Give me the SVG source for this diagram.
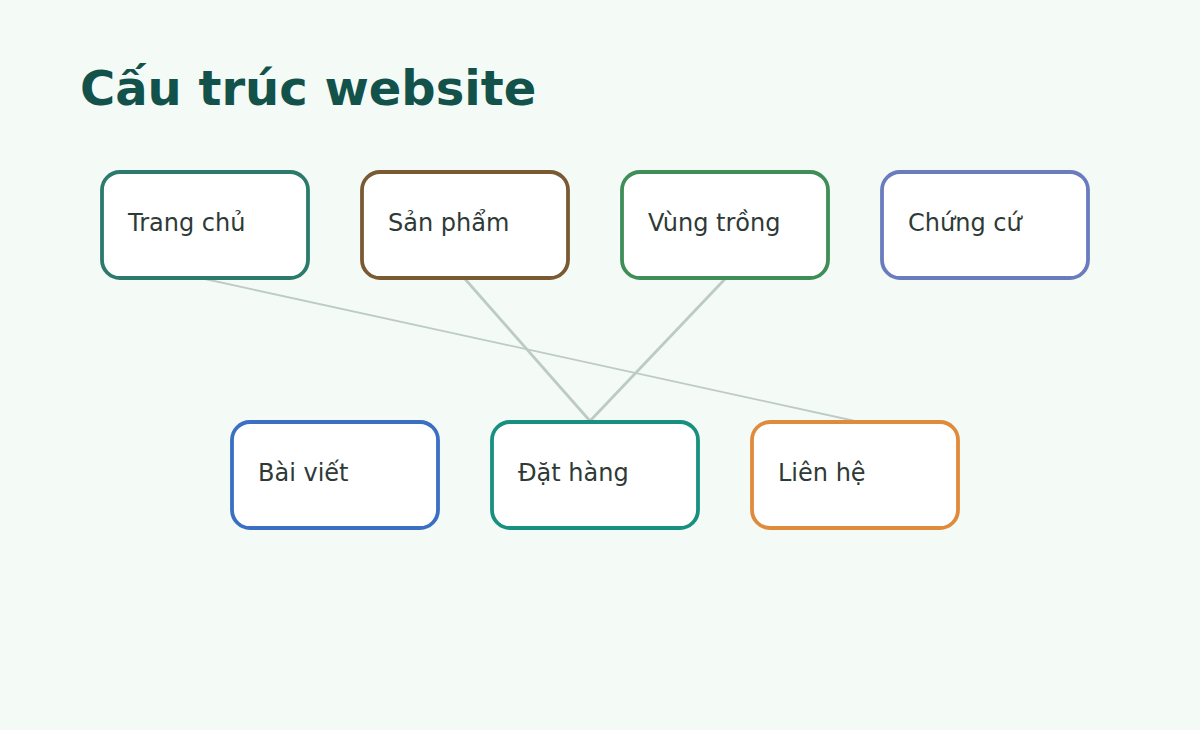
<svg xmlns="http://www.w3.org/2000/svg" width="1200" height="730" viewBox="0 0 1200 730">
<style>
.bg{fill:#f4faf6}
.title{font-family:"DejaVu Sans","Noto Sans",sans-serif;font-weight:bold;font-size:48px;fill:#12524a}
.box{fill:#ffffff;stroke-width:3.8}
.lbl{font-family:"DejaVu Sans","Noto Sans",sans-serif;font-size:24px;fill:#2e3a36}
.edge{stroke:#bccbc4;fill:none}
.thin{stroke-width:1.8}
.thick{stroke-width:2.8}
</style>
<rect class="bg" x="0" y="0" width="1200" height="730"/>
<text class="title" x="80" y="105">Cấu trúc website</text>
<g id="connectors">
<line class="edge thin" x1="205" y1="279" x2="855" y2="421"/>
<line class="edge thick" x1="465" y1="279" x2="590" y2="421"/>
<line class="edge thick" x1="725" y1="279" x2="590" y2="421"/>
</g>
<g id="trang-chu"><rect class="box" x="102" y="172" width="206" height="106" rx="18" stroke="#2b7a6c"/><text class="lbl" x="128" y="231">Trang chủ</text></g>
<g id="san-pham"><rect class="box" x="362" y="172" width="206" height="106" rx="18" stroke="#7a5a33"/><text class="lbl" x="388" y="231">Sản phẩm</text></g>
<g id="vung-trong"><rect class="box" x="622" y="172" width="206" height="106" rx="18" stroke="#3f8e58"/><text class="lbl" x="648" y="231">Vùng trồng</text></g>
<g id="chung-cu"><rect class="box" x="882" y="172" width="206" height="106" rx="18" stroke="#6a7cbd"/><text class="lbl" x="908" y="231">Chứng cứ</text></g>
<g id="bai-viet"><rect class="box" x="232" y="422" width="206" height="106" rx="18" stroke="#3a6fc4"/><text class="lbl" x="258" y="481">Bài viết</text></g>
<g id="dat-hang"><rect class="box" x="492" y="422" width="206" height="106" rx="18" stroke="#17907f"/><text class="lbl" x="518" y="481">Đặt hàng</text></g>
<g id="lien-he"><rect class="box" x="752" y="422" width="206" height="106" rx="18" stroke="#e08a3c"/><text class="lbl" x="778" y="481">Liên hệ</text></g>
</svg>
